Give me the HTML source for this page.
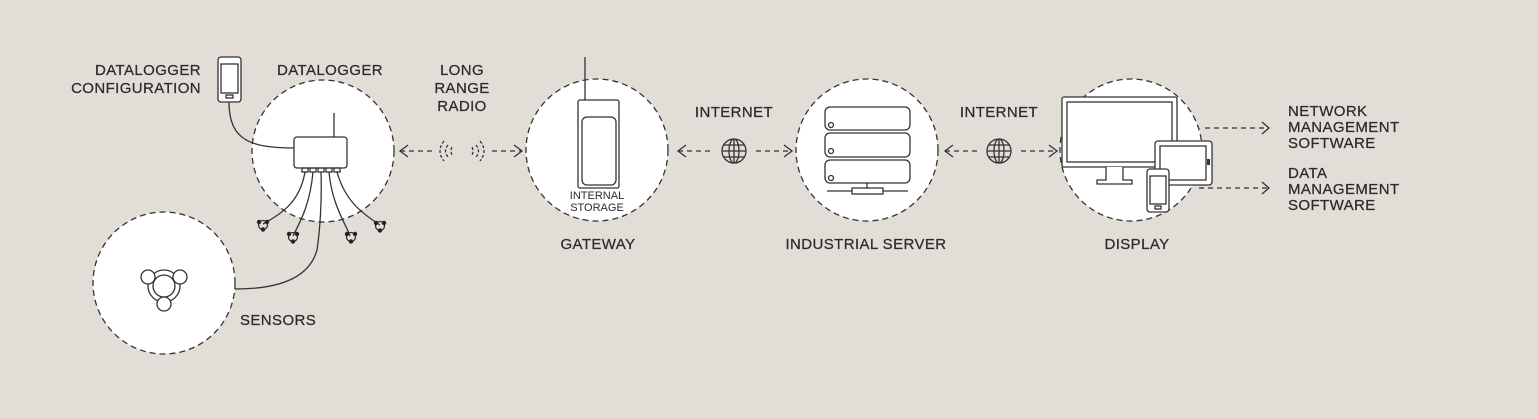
<!DOCTYPE html>
<html><head><style>
html,body{margin:0;padding:0;background:#e2ddd7}
svg{display:block}
text{font-family:"Liberation Sans",sans-serif;fill:#2b2b2b;font-size:15px;letter-spacing:0.4px;stroke:#2b2b2b;stroke-width:0.25}
.c{fill:#fff;stroke:#333;stroke-width:1.3;stroke-dasharray:6 4}
.l{fill:none;stroke:#333;stroke-width:1.3}
.d{fill:none;stroke:#333;stroke-width:1.3;stroke-dasharray:5 4}
.w{fill:#fff;stroke:#333;stroke-width:1.3}
</style></head><body>
<svg width="1538" height="419" viewBox="0 0 1538 419">
<defs>
<g id="sn"><circle cx="0" cy="0" r="4.5" class="l"/><circle cx="-4" cy="-3" r="2.2" fill="#222"/><circle cx="4" cy="-3" r="2.2" fill="#222"/><circle cx="0" cy="4.5" r="2.2" fill="#222"/></g>
<g id="globe"><circle r="12" class="l"/><ellipse rx="5" ry="12" class="l"/><line x1="-12" y1="0" x2="12" y2="0" class="l"/><line x1="-10" y1="-6" x2="10" y2="-6" class="l"/><line x1="-10" y1="6" x2="10" y2="6" class="l"/><line x1="0" y1="-12" x2="0" y2="12" class="l"/></g>
</defs>
<rect width="1538" height="419" fill="#e2ddd7"/>
<circle cx="323" cy="151" r="71" class="c"/>
<circle cx="164" cy="283" r="71" class="c"/>
<circle cx="597" cy="150" r="71" class="c"/>
<circle cx="867" cy="150" r="71" class="c"/>
<circle cx="1131" cy="150" r="71" class="c"/>
<text x="201" y="75" text-anchor="end">DATALOGGER</text>
<text x="201" y="93" text-anchor="end">CONFIGURATION</text>
<text x="330" y="75" text-anchor="middle">DATALOGGER</text>
<text x="462" y="75" text-anchor="middle">LONG</text>
<text x="462" y="93" text-anchor="middle">RANGE</text>
<text x="462" y="111" text-anchor="middle">RADIO</text>
<text x="734" y="117" text-anchor="middle">INTERNET</text>
<text x="999" y="117" text-anchor="middle">INTERNET</text>
<text x="598" y="249" text-anchor="middle">GATEWAY</text>
<text x="866" y="249" text-anchor="middle">INDUSTRIAL SERVER</text>
<text x="1137" y="249" text-anchor="middle">DISPLAY</text>
<text x="240" y="325">SENSORS</text>
<text x="1288" y="116">NETWORK</text>
<text x="1288" y="132">MANAGEMENT</text>
<text x="1288" y="148">SOFTWARE</text>
<text x="1288" y="178">DATA</text>
<text x="1288" y="194">MANAGEMENT</text>
<text x="1288" y="210">SOFTWARE</text>
<rect x="218" y="57" width="23" height="45" rx="3" class="w"/>
<rect x="221" y="64" width="17" height="29" class="l"/>
<rect x="226" y="95" width="7" height="3" class="l"/>
<path d="M229 102 C229 140 250 148 294 148" class="l"/>
<line x1="334" y1="113" x2="334" y2="137" class="l" stroke-width="3"/>
<rect x="294" y="137" width="53" height="31" rx="3" class="w"/>
<g class="l"><rect x="302" y="168" width="6" height="4"/><rect x="310" y="168" width="6" height="4"/><rect x="318" y="168" width="6" height="4"/><rect x="326" y="168" width="6" height="4"/><rect x="334" y="168" width="6" height="4"/></g>
<path d="M305 172 C300 200 285 212 263 224" class="l"/>
<path d="M313 172 C310 205 300 222 293 236" class="l"/>
<path d="M321 172 C322 200 320 230 317 250 C310 275 285 289 235 289" class="l"/>
<path d="M329 172 C332 205 345 222 350 236" class="l"/>
<path d="M337 172 C345 200 360 212 380 225" class="l"/>
<use href="#sn" x="263" y="225"/><use href="#sn" x="293" y="237"/><use href="#sn" x="351" y="237"/><use href="#sn" x="380" y="226"/>
<g>
<circle cx="164" cy="286" r="16" class="l"/>
<circle cx="164" cy="286" r="11" class="l"/>
<circle cx="148" cy="277" r="7" class="w"/><circle cx="180" cy="277" r="7" class="w"/><circle cx="164" cy="304" r="7" class="w"/>
</g>
<path d="M400 151 H435 M492 151 H522" class="d"/>
<path d="M408 145 L400 151 L408 157 M514 145 L522 151 L514 157" class="l"/>
<g class="l" stroke-dasharray="3 2"><path d="M448 145 Q443 151 448 157"/><path d="M444 141 Q436 151 444 161"/><path d="M452 147 Q450 151 452 155"/>
<path d="M476 145 Q481 151 476 157"/><path d="M480 141 Q488 151 480 161"/><path d="M472 147 Q474 151 472 155"/></g>
<line x1="585" y1="57" x2="585" y2="100" class="l" stroke-width="2.5"/>
<rect x="578" y="100" width="41" height="88" rx="2" class="w"/>
<rect x="582" y="117" width="34" height="68" rx="5" class="l"/>
<text x="597" y="199" text-anchor="middle" style="font-size:11px;letter-spacing:0;stroke-width:0">INTERNAL</text>
<text x="597" y="211" text-anchor="middle" style="font-size:11px;letter-spacing:0;stroke-width:0">STORAGE</text>
<path d="M678 151 H712 M756 151 H791" class="d"/>
<path d="M686 145 L678 151 L686 157 M784 145 L792 151 L784 157" class="l"/>
<use href="#globe" x="734" y="151"/>
<g class="w"><rect x="825" y="107" width="85" height="23" rx="5"/><rect x="825" y="133" width="85" height="24" rx="5"/><rect x="825" y="160" width="85" height="23" rx="5"/></g>
<g class="l"><circle cx="831" cy="125" r="2.5"/><circle cx="831" cy="151" r="2.5"/><circle cx="831" cy="178" r="2.5"/></g>
<line x1="867" y1="183" x2="867" y2="190" class="l"/>
<line x1="827" y1="191" x2="908" y2="191" class="l"/>
<rect x="852" y="188" width="31" height="6" class="w"/>
<path d="M945 151 H977 M1021 151 H1056" class="d"/>
<path d="M953 145 L945 151 L953 157 M1049 145 L1057 151 L1049 157" class="l"/>
<use href="#globe" x="999" y="151"/>
<rect x="1062" y="97" width="115" height="70" rx="2" class="w"/>
<rect x="1067" y="102" width="105" height="60" class="l"/>
<path d="M1106 167 V180 H1097 V184 H1132 V180 H1123 V167" class="w"/>
<rect x="1155" y="141" width="57" height="44" rx="3" class="w"/>
<rect x="1160" y="146" width="46" height="34" class="l"/>
<rect x="1207" y="159" width="3" height="6" fill="#333"/>
<rect x="1147" y="169" width="22" height="43" rx="3" class="w"/>
<rect x="1150" y="176" width="16" height="28" class="l"/>
<rect x="1155" y="206" width="6" height="3" class="l"/>
<path d="M1205 128 H1268 M1199 188 H1268" class="d"/>
<path d="M1262 122 L1269 128 L1262 134 M1262 182 L1269 188 L1262 194" class="l"/>
</svg>
</body></html>
